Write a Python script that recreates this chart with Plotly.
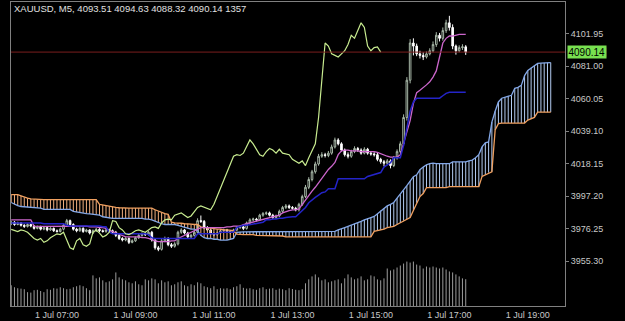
import plotly.graph_objects as go
import pandas as pd

START = "2025-07-01 05:50"
N_BARS = 140
SHIFT = 26

open_ = [
    3979.5, 3980.5, 3979.0, 3980.0, 3978.5, 3977.8, 3979.0, 3978.0, 3976.5, 3977.5,
    3976.0, 3977.0, 3975.5, 3976.5, 3975.0, 3974.5, 3976.0, 3978.5, 3981.5, 3979.0,
    3976.0, 3975.0, 3976.5, 3974.5, 3975.5, 3973.5, 3975.0, 3975.9, 3975.0, 3974.5,
    3975.5, 3975.0, 3974.0, 3972.0, 3970.0, 3969.0, 3970.0, 3967.5, 3968.5, 3970.5,
    3972.0, 3973.0, 3972.5, 3974.0, 3969.0, 3964.0, 3963.0, 3968.5, 3970.0, 3966.0,
    3965.0, 3966.5, 3974.0, 3975.5, 3973.5, 3971.0, 3972.0, 3974.0, 3981.5, 3981.0,
    3977.0, 3975.5, 3973.0, 3972.5, 3973.5, 3975.0, 3975.5, 3974.5, 3974.0, 3975.5,
    3977.0, 3977.5, 3976.5, 3980.0, 3982.0, 3982.5, 3982.0, 3985.0, 3986.0, 3986.5,
    3985.0, 3983.5, 3984.5, 3987.5, 3990.0, 3991.0, 3990.0, 3989.5, 3988.5, 3992.0,
    3997.0, 4003.0, 4008.0, 4013.0, 4018.0, 4023.0, 4024.0, 4023.5, 4025.0, 4029.0,
    4033.5, 4031.0, 4027.0, 4024.0, 4023.0, 4026.0, 4028.0, 4027.0, 4025.0, 4027.5,
    4025.0, 4024.5, 4024.0, 4021.0, 4019.5, 4018.5, 4020.0, 4017.0, 4022.0, 4026.0,
    4031.0, 4048.0, 4072.0, 4096.0, 4094.0, 4089.0, 4088.0, 4087.0, 4089.0, 4091.0,
    4095.0, 4101.0, 4099.0, 4104.0, 4109.0, 4106.0, 4094.0, 4091.0, 4093.0, 4093.51,
]
high_ = [
    3981.5, 3981.2, 3980.8, 3980.6, 3979.2, 3979.8, 3979.6, 3978.7, 3978.3, 3978.2,
    3977.8, 3977.6, 3977.3, 3977.1, 3975.8, 3976.9, 3979.3, 3982.6, 3982.2, 3979.8,
    3976.9, 3977.3, 3977.2, 3976.3, 3975.9, 3975.8, 3976.8, 3976.7, 3975.8, 3976.4,
    3976.3, 3975.8, 3974.9, 3972.8, 3970.9, 3970.9, 3970.7, 3969.4, 3971.3, 3972.9,
    3974.0, 3973.9, 3974.8, 3974.9, 3969.8, 3965.2, 3969.6, 3971.2, 3970.8, 3967.1,
    3967.6, 3975.0, 3976.6, 3976.2, 3974.3, 3973.0, 3975.0, 3983.0, 3984.8, 3981.9,
    3978.0, 3976.4, 3973.9, 3974.4, 3975.9, 3976.3, 3976.2, 3975.3, 3976.3, 3977.9,
    3978.4, 3978.3, 3980.9, 3983.0, 3983.4, 3983.3, 3985.9, 3987.0, 3987.4, 3987.3,
    3985.9, 3985.4, 3988.6, 3991.0, 3992.2, 3991.9, 3990.9, 3990.4, 3993.0, 3998.2,
    4004.5, 4009.5, 4014.2, 4019.5, 4024.5, 4025.6, 4025.2, 4026.4, 4030.5, 4035.0,
    4034.6, 4032.0, 4028.0, 4025.5, 4027.2, 4029.4, 4029.0, 4028.1, 4028.8, 4028.4,
    4026.4, 4025.6, 4025.2, 4022.0, 4020.6, 4021.2, 4021.0, 4023.2, 4027.4, 4032.6,
    4050.0, 4074.0, 4098.5, 4099.0, 4095.6, 4091.0, 4090.0, 4090.5, 4092.6, 4097.0,
    4103.0, 4102.5, 4106.0, 4111.0, 4113.5, 4108.0, 4095.0, 4094.5, 4095.2, 4094.63,
]
low_ = [
    3978.6, 3978.2, 3978.5, 3977.7, 3976.8, 3977.1, 3977.2, 3975.7, 3975.9, 3975.2,
    3975.3, 3974.6, 3975.0, 3974.2, 3973.8, 3973.9, 3975.2, 3977.8, 3978.2, 3975.1,
    3974.0, 3974.3, 3973.6, 3973.9, 3972.6, 3972.8, 3974.2, 3974.1, 3973.8, 3973.6,
    3974.1, 3973.1, 3970.9, 3969.0, 3968.1, 3968.2, 3966.4, 3966.9, 3967.8, 3969.7,
    3971.2, 3971.6, 3971.8, 3968.0, 3962.8, 3961.8, 3962.2, 3967.6, 3965.0, 3963.9,
    3964.1, 3965.5, 3973.0, 3972.6, 3970.2, 3970.1, 3971.2, 3973.2, 3980.0, 3976.0,
    3974.6, 3972.2, 3971.4, 3971.7, 3972.8, 3974.1, 3973.6, 3973.0, 3973.2, 3974.6,
    3976.2, 3975.4, 3975.7, 3979.2, 3981.2, 3981.0, 3981.2, 3984.0, 3985.1, 3984.2,
    3982.4, 3982.6, 3983.7, 3986.5, 3989.0, 3989.0, 3988.6, 3987.5, 3987.4, 3991.0,
    3996.0, 4001.8, 4006.8, 4011.8, 4016.9, 4022.0, 4022.2, 4022.4, 4024.0, 4028.0,
    4030.0, 4026.0, 4022.8, 4021.6, 4022.0, 4025.0, 4025.8, 4024.0, 4024.2, 4024.0,
    4023.4, 4022.8, 4019.8, 4018.2, 4016.5, 4017.4, 4015.2, 4016.0, 4020.8, 4025.0,
    4029.5, 4046.0, 4070.0, 4088.0, 4087.5, 4086.0, 4085.0, 4086.0, 4088.0, 4090.0,
    4093.5, 4097.0, 4097.5, 4102.5, 4104.0, 4092.0, 4088.5, 4090.0, 4091.5, 4088.32,
]
close_ = [
    3980.5, 3979.0, 3980.0, 3978.5, 3977.8, 3979.0, 3978.0, 3976.5, 3977.5, 3976.0,
    3977.0, 3975.5, 3976.5, 3975.0, 3974.5, 3976.0, 3978.5, 3981.5, 3979.0, 3976.0,
    3975.0, 3976.5, 3974.5, 3975.5, 3973.5, 3975.0, 3975.9, 3975.0, 3974.5, 3975.5,
    3975.0, 3974.0, 3972.0, 3970.0, 3969.0, 3970.0, 3967.5, 3968.5, 3970.5, 3972.0,
    3973.0, 3972.5, 3974.0, 3969.0, 3964.0, 3963.0, 3968.5, 3970.0, 3966.0, 3965.0,
    3966.5, 3974.0, 3975.5, 3973.5, 3971.0, 3972.0, 3974.0, 3981.5, 3981.0, 3977.0,
    3975.5, 3973.0, 3972.5, 3973.5, 3975.0, 3975.5, 3974.5, 3974.0, 3975.5, 3977.0,
    3977.5, 3976.5, 3980.0, 3982.0, 3982.5, 3982.0, 3985.0, 3986.0, 3986.5, 3985.0,
    3983.5, 3984.5, 3987.5, 3990.0, 3991.0, 3990.0, 3989.5, 3988.5, 3992.0, 3997.0,
    4003.0, 4008.0, 4013.0, 4018.0, 4023.0, 4024.0, 4023.5, 4025.0, 4029.0, 4033.5,
    4031.0, 4027.0, 4024.0, 4023.0, 4026.0, 4028.0, 4027.0, 4025.0, 4027.5, 4025.0,
    4024.5, 4024.0, 4021.0, 4019.5, 4018.5, 4020.0, 4017.0, 4022.0, 4026.0, 4031.0,
    4048.0, 4072.0, 4096.0, 4094.0, 4089.0, 4088.0, 4087.0, 4089.0, 4091.0, 4095.0,
    4101.0, 4099.0, 4104.0, 4109.0, 4106.0, 4094.0, 4091.0, 4093.0, 4093.51, 4090.14,
]
volume = [
    1050, 950, 900, 880, 850, 700, 680, 800, 820, 760,
    700, 850, 820, 900, 880, 950, 900, 850, 870, 950,
    1000, 1050, 1000, 900, 800, 1550, 1400, 1450, 1300, 1200,
    1250, 1350, 1700, 1450, 1350, 1300, 1200, 1150, 1250, 1100,
    1050, 1350, 1300, 1400, 1350, 1150, 1300, 1200, 1250, 1050,
    1100, 1200, 1250, 1050, 1000, 1100, 1050, 1200, 1150, 1000,
    950, 900, 1000, 850, 900, 880, 900, 850, 950, 1000,
    1100, 920, 880, 900, 850, 820, 900, 950, 850, 880,
    900, 820, 880, 850, 800, 900, 860, 820, 800, 850,
    1150, 1350, 1500, 1600, 1450, 1300, 1350, 1200, 1250, 1300,
    1350, 1150, 1400, 1600, 1450, 1350, 1400, 1500, 1300, 1350,
    1550, 1500, 1350, 1300, 1400, 1900, 1800, 1850, 1950, 2050,
    2150, 2250, 2200, 2250, 2100, 2050, 1900, 2000, 1950, 2000,
    1950, 1900, 1950, 1850, 1750, 1700, 1600, 1500, 1400, 1357,
]
tenkan = [
    3982.0, 3982.0, 3982.0, 3982.0, 3982.0, 3982.0, 3982.0, 3978.0, 3977.8, 3977.8,
    3977.8, 3977.8, 3977.8, 3977.8, 3977.8, 3977.8, 3978.0, 3978.0, 3978.0, 3978.0,
    3978.0, 3978.0, 3978.0, 3978.0, 3977.5, 3977.5, 3977.5, 3977.0, 3977.0, 3976.5,
    3975.0, 3974.5, 3973.5, 3972.5, 3971.5, 3971.0, 3971.0, 3971.0, 3971.0, 3971.0,
    3970.5, 3970.5, 3970.0, 3969.0, 3968.5, 3968.0, 3968.0, 3968.0, 3968.0, 3968.5,
    3968.5, 3970.0, 3971.0, 3972.0, 3973.0, 3974.5, 3975.5, 3976.5, 3977.0, 3977.0,
    3977.0, 3977.0, 3977.0, 3977.0, 3977.0, 3977.0, 3977.5, 3977.5, 3978.0, 3978.0,
    3978.0, 3979.0, 3979.5, 3980.0, 3980.5, 3981.0, 3981.5, 3982.0, 3982.5, 3983.0,
    3983.5, 3984.0, 3985.0, 3986.5, 3987.5, 3988.0, 3988.5, 3988.5, 3989.0, 3992.0,
    3995.0, 3998.0, 4000.5, 4003.0, 4006.0, 4009.0, 4012.0, 4014.5, 4016.5, 4019.0,
    4024.0, 4026.5, 4027.0, 4027.0, 4026.5, 4026.5, 4026.5, 4026.0, 4026.0, 4026.0,
    4026.0, 4026.0, 4025.5, 4024.5, 4024.0, 4023.0, 4022.5, 4022.5, 4022.5, 4024.0,
    4031.0, 4038.0, 4046.0, 4057.0, 4064.0, 4065.5, 4067.0, 4069.0, 4071.0, 4074.0,
    4078.0, 4088.0, 4096.0, 4099.0, 4100.5, 4100.5, 4101.0, 4101.5, 4101.5, 4101.5,
]
kijun = [
    3980.0, 3980.0, 3980.0, 3980.0, 3980.0, 3980.0, 3980.0, 3980.0, 3980.0, 3980.0,
    3979.5, 3979.5, 3979.5, 3979.5, 3979.5, 3979.5, 3979.5, 3978.5, 3978.0, 3978.0,
    3978.0, 3978.0, 3978.0, 3978.0, 3978.0, 3978.0, 3978.0, 3978.0, 3977.5, 3977.5,
    3974.0, 3973.0, 3973.0, 3973.0, 3973.0, 3973.0, 3973.0, 3973.0, 3973.0, 3973.0,
    3973.0, 3973.0, 3972.5, 3970.5, 3970.0, 3970.0, 3970.0, 3970.0, 3970.0, 3970.0,
    3970.0, 3970.0, 3970.0, 3970.0, 3970.0, 3970.0, 3970.0, 3973.0, 3973.0, 3973.0,
    3973.0, 3973.0, 3973.0, 3973.0, 3974.0, 3974.0, 3974.0, 3974.0, 3974.0, 3977.0,
    3977.8, 3978.5, 3978.5, 3979.0, 3979.5, 3980.0, 3980.5, 3980.5, 3982.0, 3982.0,
    3982.5, 3982.5, 3983.0, 3983.0, 3983.5, 3984.0, 3984.0, 3984.0, 3986.0, 3988.0,
    3990.0, 3993.0, 3995.0, 3996.5, 3998.0, 3999.5, 4000.0, 4002.0, 4002.0, 4002.0,
    4008.5, 4008.5, 4008.5, 4008.5, 4008.5, 4008.5, 4008.5, 4008.5, 4008.5, 4010.0,
    4010.5, 4011.0, 4012.0, 4012.5, 4016.0, 4017.5, 4018.8, 4022.0, 4022.0, 4022.0,
    4030.0, 4040.0, 4052.0, 4058.0, 4060.4, 4060.4, 4060.4, 4060.4, 4060.4, 4060.4,
    4060.4, 4060.4, 4062.0, 4063.5, 4064.2, 4064.2, 4064.2, 4064.2, 4064.2, 4064.2,
]
span_a = [
    3993.2, 3992.0, 3991.2, 3990.6, 3990.4, 3990.2, 3990.0, 3990.0, 3989.8, 3989.5,
    3988.7, 3988.7, 3988.7, 3988.7, 3988.7, 3988.7, 3988.7, 3988.7, 3988.7, 3987.5,
    3987.0, 3986.8, 3986.5, 3986.0, 3985.8, 3985.5, 3985.5, 3985.0, 3984.0, 3983.5,
    3983.0, 3983.0, 3983.0, 3983.0, 3983.0, 3983.0, 3983.0, 3983.0, 3983.0, 3983.0,
    3983.0, 3982.5, 3982.5, 3982.0, 3981.0, 3980.0, 3979.5, 3979.0, 3979.0, 3979.0,
    3979.0, 3978.5, 3978.0, 3977.0, 3976.5, 3976.0, 3976.0, 3975.0, 3972.0, 3970.5,
    3970.0, 3970.0, 3969.5, 3969.5, 3969.0, 3969.0, 3969.0, 3969.5, 3970.0, 3974.0,
    3974.3, 3974.3, 3974.3, 3974.3, 3974.3, 3974.3, 3974.3, 3974.3, 3974.3, 3974.3,
    3974.3, 3974.3, 3974.3, 3974.3, 3974.6, 3974.6, 3974.6, 3974.6, 3974.6, 3974.6,
    3974.6, 3974.6, 3974.6, 3974.6, 3974.6, 3974.6, 3974.6, 3974.6, 3974.6, 3974.6,
    3975.5, 3976.0, 3977.0, 3977.8, 3978.5, 3979.5, 3980.0, 3981.0, 3982.0, 3983.0,
    3983.5, 3984.2, 3986.0, 3988.0, 3989.5, 3991.0, 3992.0, 3993.2, 3996.0, 3998.5,
    4001.0, 4004.0, 4007.0, 4009.8, 4011.0, 4014.3, 4016.0, 4017.5, 4018.2, 4018.5,
    4018.2, 4018.2, 4018.2, 4018.2, 4018.2, 4019.4, 4019.4, 4019.4, 4019.4, 4019.4,
    4020.0, 4020.5, 4022.0, 4024.0, 4029.0, 4031.6, 4032.2, 4045.0, 4052.0, 4058.0,
    4060.4, 4061.0, 4061.5, 4062.3, 4066.8, 4067.4, 4068.7, 4075.0, 4078.3, 4080.0,
    4081.5, 4082.8, 4083.0, 4083.2, 4083.4, 4083.4,
]
span_b = [
    3998.3, 3998.3, 3998.3, 3997.5, 3996.5, 3996.0, 3995.5, 3995.3, 3995.0, 3995.0,
    3995.0, 3995.0, 3995.0, 3995.0, 3995.0, 3995.0, 3995.0, 3995.0, 3995.0, 3995.0,
    3995.0, 3995.0, 3995.0, 3995.0, 3995.0, 3995.0, 3995.0, 3992.0, 3991.5, 3991.0,
    3990.8, 3990.5, 3990.0, 3989.8, 3989.6, 3989.6, 3989.6, 3989.6, 3989.6, 3989.6,
    3989.6, 3989.6, 3989.6, 3989.6, 3988.5, 3987.5, 3986.5, 3986.0, 3985.5, 3980.5,
    3980.0, 3980.0, 3979.8, 3979.5, 3979.5, 3979.2, 3979.0, 3979.0, 3977.5, 3977.0,
    3977.0, 3976.5, 3976.5, 3976.0, 3976.0, 3975.5, 3975.5, 3975.0, 3975.0, 3972.8,
    3972.5, 3972.5, 3972.5, 3972.5, 3972.5, 3972.0, 3972.0, 3972.0, 3972.0, 3972.0,
    3971.6, 3971.6, 3971.6, 3971.6, 3971.0, 3971.0, 3971.0, 3971.0, 3971.0, 3971.0,
    3971.0, 3971.0, 3971.0, 3971.0, 3971.0, 3971.0, 3971.0, 3971.0, 3971.0, 3971.0,
    3971.0, 3971.0, 3971.0, 3971.0, 3971.0, 3971.0, 3971.0, 3971.0, 3971.0, 3971.0,
    3971.0, 3974.6, 3975.0, 3975.5, 3976.0, 3977.0, 3977.5, 3977.8, 3979.0, 3980.0,
    3981.5, 3982.5, 3983.5, 3988.0, 3993.0, 3997.0, 3999.0, 4002.8, 4002.8, 4002.8,
    4002.8, 4002.8, 4002.8, 4002.8, 4003.4, 4003.4, 4003.4, 4003.4, 4003.4, 4003.4,
    4003.4, 4003.4, 4003.4, 4003.4, 4010.0, 4011.0, 4012.4, 4013.0, 4040.0, 4044.0,
    4044.4, 4044.4, 4044.4, 4044.4, 4044.4, 4044.4, 4044.4, 4044.4, 4046.3, 4047.0,
    4048.0, 4051.4, 4051.4, 4051.4, 4051.4, 4051.4,
]
y_ticks = [3955.30, 3976.25, 3997.20, 4018.15, 4039.10, 4060.05, 4081.00, 4101.95]
title_text = "XAUUSD, M5, 4093.51 4094.63 4088.32 4090.14 1357"

for arr in (open_, high_, low_, close_, volume, tenkan, kijun):
    assert len(arr) == N_BARS, len(arr)
assert len(span_a) == N_BARS + SHIFT and len(span_b) == N_BARS + SHIFT

times = pd.date_range(START, periods=N_BARS + SHIFT, freq="5min")
tb = times[:N_BARS]
step = pd.Timedelta(minutes=5)

# cloud hatch (one vertical stroke per bar between the two spans)
bull_x, bull_y, bear_x, bear_y = [], [], [], []
for t, a, b in zip(times, span_a, span_b):
    if a >= b:
        bull_x += [t, t, None]; bull_y += [a, b, None]
    else:
        bear_x += [t, t, None]; bear_y += [a, b, None]

# volume as thin 1px histogram strokes
vol_x, vol_y = [], []
for t, v in zip(tb, volume):
    vol_x += [t, t, None]; vol_y += [0, v, None]

fig = go.Figure()
fig.add_trace(go.Scatter(x=vol_x, y=vol_y, yaxis="y2", mode="lines",
                         line=dict(color="#9c9c9c", width=1)))
fig.add_trace(go.Scatter(x=bull_x, y=bull_y, mode="lines",
                         line=dict(color="#b4cdf2", width=1)))
fig.add_trace(go.Scatter(x=bear_x, y=bear_y, mode="lines",
                         line=dict(color="#f2b080", width=1)))
fig.add_trace(go.Scatter(x=times, y=span_a, mode="lines",
                         line=dict(color="#84a8e8", width=1.3)))
fig.add_trace(go.Scatter(x=times, y=span_b, mode="lines",
                         line=dict(color="#f0a060", width=1.3)))
fig.add_trace(go.Candlestick(
    x=tb, open=open_, high=high_, low=low_, close=close_,
    increasing=dict(line=dict(color="#a8b8a8", width=1), fillcolor="#000000"),
    decreasing=dict(line=dict(color="#ffffff", width=1), fillcolor="#ffffff"),
    whiskerwidth=0))
fig.add_trace(go.Scatter(x=tb, y=tenkan, mode="lines",
                         line=dict(color="#cc66cc", width=1.3)))
fig.add_trace(go.Scatter(x=tb, y=kijun, mode="lines",
                         line=dict(color="#2424c8", width=1.5)))
fig.add_trace(go.Scatter(x=tb[:N_BARS - SHIFT], y=close_[SHIFT:], mode="lines",
                         line=dict(color="#c8ec90", width=1.2)))

last = close_[-1]
fig.add_shape(type="line", xref="paper", x0=0, x1=1, yref="y", y0=last, y1=last,
              line=dict(color="#7a1e1e", width=1))
fig.add_shape(type="rect", xref="paper", x0=1.0705, x1=1.0745, yref="y",
              y0=last - 3.0, y1=last + 3.0, fillcolor="#c02020", line=dict(width=0))
fig.add_annotation(xref="paper", x=1.0036, xanchor="left", yref="y", y=last,
                   text=f"{last:.2f}", showarrow=False, bgcolor="#78e050",
                   font=dict(color="#000000", size=10, family="Arial"), borderpad=0.5)
fig.add_annotation(xref="paper", x=0.002, xanchor="left", yref="paper", y=0.977,
                   yanchor="middle", text=title_text, showarrow=False,
                   font=dict(color="#e0e0e0", size=9.5, family="Arial"))

x0 = times[0] - step * 0.06
x1 = times[0] + step * 169.36
fig.update_layout(
    width=625, height=321, margin=dict(l=11, r=60, t=1, b=14),
    paper_bgcolor="#000000", plot_bgcolor="#000000", showlegend=False,
    font=dict(family="Arial", color="#c8c8c8", size=9),
    xaxis=dict(range=[x0, x1], rangeslider=dict(visible=False), showgrid=False,
               zeroline=False, showline=True, mirror=True, linecolor="#808080",
               linewidth=1, tickformat="%-d %b %H:%M", dtick=7200000,
               tick0="2025-07-01 07:00", ticks="", tickfont=dict(size=9, color="#c8c8c8")),
    yaxis=dict(range=[3926.48, 4122.42], side="right", showgrid=False, zeroline=False,
               showline=True, mirror=True, linecolor="#808080", linewidth=1,
               tickvals=y_ticks, ticktext=[f"{v:.2f}" for v in y_ticks],
               ticks="outside", ticklen=3, tickcolor="#808080",
               tickfont=dict(size=9, color="#c8c8c8")),
    yaxis2=dict(overlaying="y", range=[0, 15400], visible=False, fixedrange=True),
)
fig.write_html("out.html")
